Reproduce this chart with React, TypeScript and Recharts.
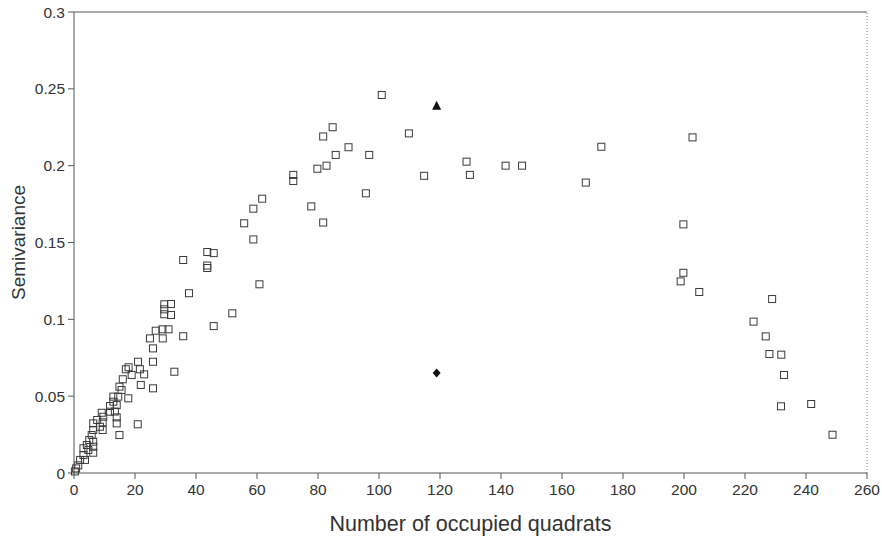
import React from 'react';
import { ReferenceLine, Scatter, ScatterChart, XAxis, YAxis, Label } from 'recharts';

interface Pt {
  x: number;
  y: number;
}

// observed semivariance, one point per pair of plots
const observed: Pt[] = [
  { x: 0.3, y: 0.001 }, { x: 0.7, y: 0.003 }, { x: 1.4, y: 0.005 }, { x: 2, y: 0.0085 },
  { x: 3.6, y: 0.0085 }, { x: 3.1, y: 0.0117 }, { x: 6.3, y: 0.0132 }, { x: 4.7, y: 0.015 },
  { x: 3.1, y: 0.0161 }, { x: 6.3, y: 0.0171 }, { x: 4.2, y: 0.0182 }, { x: 6.3, y: 0.0204 },
  { x: 5, y: 0.0215 }, { x: 5.8, y: 0.0247 }, { x: 6.3, y: 0.028 }, { x: 8.5, y: 0.0301 },
  { x: 6.3, y: 0.0323 }, { x: 7.6, y: 0.0345 }, { x: 9.6, y: 0.0366 }, { x: 9.1, y: 0.0392 },
  { x: 9.4, y: 0.033 }, { x: 9.4, y: 0.028 }, { x: 11.8, y: 0.0399 }, { x: 11.8, y: 0.0436 },
  { x: 12.9, y: 0.0464 }, { x: 12.9, y: 0.0497 }, { x: 14, y: 0.0442 }, { x: 13.4, y: 0.04 },
  { x: 14, y: 0.0362 }, { x: 14, y: 0.0323 }, { x: 14.9, y: 0.0247 }, { x: 14.5, y: 0.0497 },
  { x: 15.6, y: 0.054 }, { x: 14.9, y: 0.0562 }, { x: 16, y: 0.061 }, { x: 17.8, y: 0.0486 },
  { x: 17, y: 0.0675 }, { x: 17.9, y: 0.0688 }, { x: 18.9, y: 0.0638 }, { x: 20.9, y: 0.0317 },
  { x: 21, y: 0.0724 }, { x: 21.6, y: 0.0675 }, { x: 23, y: 0.0642 }, { x: 21.9, y: 0.0573 },
  { x: 25.9, y: 0.0551 }, { x: 25.9, y: 0.0724 }, { x: 25.9, y: 0.0811 }, { x: 24.9, y: 0.0876 },
  { x: 29.1, y: 0.0876 }, { x: 26.8, y: 0.0926 }, { x: 29, y: 0.0935 }, { x: 31, y: 0.0935 },
  { x: 32.9, y: 0.0659 }, { x: 29.6, y: 0.1033 }, { x: 31.8, y: 0.1028 }, { x: 29.6, y: 0.1065 },
  { x: 29.6, y: 0.1098 }, { x: 31.8, y: 0.11 }, { x: 35.8, y: 0.089 }, { x: 37.7, y: 0.117 },
  { x: 35.8, y: 0.1386 }, { x: 43.7, y: 0.1334 }, { x: 43.7, y: 0.135 }, { x: 43.7, y: 0.1438 },
  { x: 45.8, y: 0.1431 }, { x: 45.8, y: 0.0956 }, { x: 51.9, y: 0.1039 }, { x: 60.8, y: 0.1228 },
  { x: 55.8, y: 0.1625 }, { x: 58.8, y: 0.152 }, { x: 58.8, y: 0.172 }, { x: 61.7, y: 0.1785 },
  { x: 71.9, y: 0.194 }, { x: 71.9, y: 0.19 }, { x: 77.8, y: 0.1735 }, { x: 79.8, y: 0.198 },
  { x: 81.7, y: 0.163 }, { x: 81.7, y: 0.219 }, { x: 82.8, y: 0.2 }, { x: 84.8, y: 0.225 },
  { x: 85.8, y: 0.207 }, { x: 90, y: 0.212 }, { x: 95.7, y: 0.182 }, { x: 96.8, y: 0.207 },
  { x: 100.9, y: 0.246 }, { x: 109.8, y: 0.221 }, { x: 114.8, y: 0.1934 }, { x: 128.7, y: 0.2026 },
  { x: 129.8, y: 0.194 }, { x: 141.5, y: 0.2 }, { x: 146.9, y: 0.2 }, { x: 167.8, y: 0.189 },
  { x: 172.9, y: 0.2123 }, { x: 202.8, y: 0.2184 }, { x: 199.8, y: 0.1618 }, { x: 199.8, y: 0.1303 },
  { x: 198.9, y: 0.1247 }, { x: 205, y: 0.1178 }, { x: 222.8, y: 0.0985 }, { x: 226.8, y: 0.0889 },
  { x: 228.9, y: 0.1132 }, { x: 228, y: 0.0774 }, { x: 231.9, y: 0.077 }, { x: 232.8, y: 0.0638 },
  { x: 231.8, y: 0.0434 }, { x: 241.7, y: 0.0449 }, { x: 248.7, y: 0.0249 },
];

const triangleSeries: Pt[] = [{ x: 118.9, y: 0.239 }];
const diamondSeries: Pt[] = [{ x: 118.9, y: 0.065 }];

const xTicks = [0, 20, 40, 60, 80, 100, 120, 140, 160, 180, 200, 220, 240, 260];
const yTicks = [0, 0.05, 0.1, 0.15, 0.2, 0.25, 0.3];

const FONT = '"Liberation Sans", Arial, sans-serif';
const INK = '#333';

const SquareShape = (props: any) => {
  const { cx, cy } = props;
  if (cx == null || cy == null) return <g />;
  return <rect x={cx - 3.5} y={cy - 3.5} width={7} height={7} fill="none" stroke="#3a3a3a" strokeWidth={1} />;
};

const TriangleShape = (props: any) => {
  const { cx, cy } = props;
  if (cx == null || cy == null) return <g />;
  return <path d={`M${cx},${cy - 5} L${cx + 4.5},${cy + 4} L${cx - 4.5},${cy + 4} Z`} fill="#111" />;
};

const DiamondShape = (props: any) => {
  const { cx, cy } = props;
  if (cx == null || cy == null) return <g />;
  return <path d={`M${cx},${cy - 4.5} L${cx + 4},${cy} L${cx},${cy + 4.5} L${cx - 4},${cy} Z`} fill="#111" />;
};

const App: React.FC = () => {
  return (
    <div style={{ position: 'absolute', left: 0, top: 0, width: 882, height: 539, background: '#fff' }}>
      <ScatterChart width={882} height={539} margin={{ top: 12, right: 15, bottom: 0, left: 0 }}>
        <XAxis
          type="number"
          dataKey="x"
          domain={[0, 260]}
          ticks={xTicks}
          interval={0}
          height={66}
          stroke="#555"
          tickSize={6}
          tick={{ fill: INK, fontSize: 15.5, fontFamily: FONT }}
          tickMargin={5}
        >
          <Label
            value="Number of occupied quadrats"
            position="insideBottom"
            offset={8}
            style={{ fill: INK, fontSize: 21.5, fontFamily: FONT }}
          />
        </XAxis>
        <YAxis
          type="number"
          dataKey="y"
          domain={[0, 0.3]}
          ticks={yTicks}
          interval={0}
          width={74}
          stroke="#555"
          tickSize={6}
          tick={{ fill: INK, fontSize: 15.5, fontFamily: FONT }}
          tickMargin={3}
        >
          <Label
            value="Semivariance"
            angle={-90}
            position="insideLeft"
            offset={18}
            style={{ fill: INK, fontSize: 19, fontFamily: FONT, textAnchor: 'middle' }}
          />
        </YAxis>
        <ReferenceLine y={0.3} stroke="#555" ifOverflow="extendDomain" />
        <ReferenceLine x={260} stroke="#777" strokeDasharray="1 2" />
        <Scatter data={observed} shape={SquareShape} isAnimationActive={false} />
        <Scatter data={triangleSeries} shape={TriangleShape} isAnimationActive={false} />
        <Scatter data={diamondSeries} shape={DiamondShape} isAnimationActive={false} />
      </ScatterChart>
    </div>
  );
};

export default App;
